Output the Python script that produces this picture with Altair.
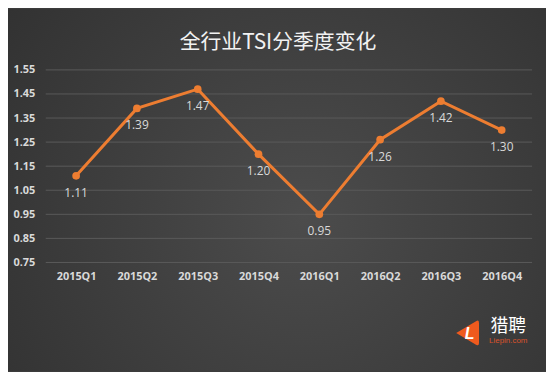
import altair as alt
import pandas as pd

quarters = ["2015Q1", "2015Q2", "2015Q3", "2015Q4", "2016Q1", "2016Q2", "2016Q3", "2016Q4"]
tsi = [1.11, 1.39, 1.47, 1.20, 0.95, 1.26, 1.42, 1.30]
y_ticks = [0.75, 0.85, 0.95, 1.05, 1.15, 1.25, 1.35, 1.45, 1.55]
title_text = "全行业TSI分季度变化"
logo_cn = "猎聘"
logo_en = "Liepin.com"

df = pd.DataFrame({"quarter": quarters, "tsi": tsi})
grid_df = pd.DataFrame({"tsi": y_ticks})
one = pd.DataFrame({"k": [0]})

W, H = 490, 194
PL, PT, PR, PB = 38, 61, 14, 109

ORANGE = "#ed7d31"
LABEL = "#d9d9d9"

xs = alt.Scale(type="point", padding=0.5)
ys = alt.Scale(domain=[0.75, 1.55], nice=False, zero=False)

x_enc = alt.X("quarter:N", sort=quarters, title=None, scale=xs,
              axis=alt.Axis(labelAngle=0, labelColor=LABEL, labelFont="Open Sans",
                            labelFontWeight="bold", labelFontSize=11, labelPadding=8,
                            ticks=False, domain=False, grid=False, zindex=1,
                            labelOverlap=False))
y_enc = alt.Y("tsi:Q", title=None, scale=ys,
              axis=alt.Axis(values=y_ticks, format=".2f", labelColor=LABEL,
                            labelFont="Open Sans", labelFontWeight="bold", labelFontSize=11,
                            labelPadding=11, ticks=False, domain=False, grid=False, zindex=1,
                            labelOverlap=False, labelSeparation=0))

bg = alt.Chart(one).mark_rect(
    color={"gradient": "radial", "x1": 0.55, "y1": 0.55, "x2": 0.55, "y2": 0.55,
           "r1": 0, "r2": 0.75,
           "stops": [{"offset": 0, "color": "#4c4c4c"}, {"offset": 1, "color": "#2f2f2f"}]}
).encode(x=alt.value(-PL), x2=alt.value(W + PR), y=alt.value(-PT), y2=alt.value(H + PB))

grid = alt.Chart(grid_df).mark_rule(color="#5a5a5a", strokeWidth=1).encode(
    y=y_enc, x=alt.value(0), x2=alt.value(W))

line = alt.Chart(df).mark_line(color=ORANGE, strokeWidth=3).encode(x=x_enc, y=y_enc)
pts = alt.Chart(df).mark_point(filled=True, color=ORANGE, size=60, opacity=1).encode(
    x=x_enc, y=y_enc)
labels = alt.Chart(df).mark_text(color=LABEL, font="Open Sans", fontSize=12, dy=17).encode(
    x=x_enc, y=y_enc, text=alt.Text("tsi:Q", format=".2f"))

title = alt.Chart(one).mark_text(text=title_text, font="Noto Sans CJK SC", fontSize=21,
                                 color="#f2f2f2").encode(
    x=alt.value(234), y=alt.value(-27))

tri = alt.Chart(one).mark_point(
    shape="M -0.9 0 L 0.7 -0.95 Q 0.9 -1.05 0.9 -0.8 L 0.9 0.8 Q 0.9 1.05 0.7 0.95 Z",
    filled=True, color="#ee5a1e", size=650, opacity=1).encode(x=alt.value(425), y=alt.value(265))
tri_l = alt.Chart(one).mark_text(text="L", font="Liberation Sans", fontSize=16, fontWeight="bold",
                                 fontStyle="italic", color="white").encode(
    x=alt.value(427), y=alt.value(266))
cn = alt.Chart(one).mark_text(text=logo_cn, font="Noto Sans CJK SC", fontSize=18,
                              color="white").encode(x=alt.value(466), y=alt.value(259))
en = alt.Chart(one).mark_text(text=logo_en, font="Liberation Sans", fontSize=8,
                              color="#d9522b").encode(x=alt.value(466), y=alt.value(273))

chart = alt.layer(bg, grid, line, pts, labels, title, tri, tri_l, cn, en).properties(
    width=W, height=H,
    autosize=alt.AutoSizeParams(type="none"),
    padding={"left": PL, "top": PT, "right": PR, "bottom": PB},
    background="#3c3c3c"
).configure_view(stroke=None).configure_axis(labelOverlap=False)

chart.save("out.html", embed_options={"renderer": "svg", "actions": False})
